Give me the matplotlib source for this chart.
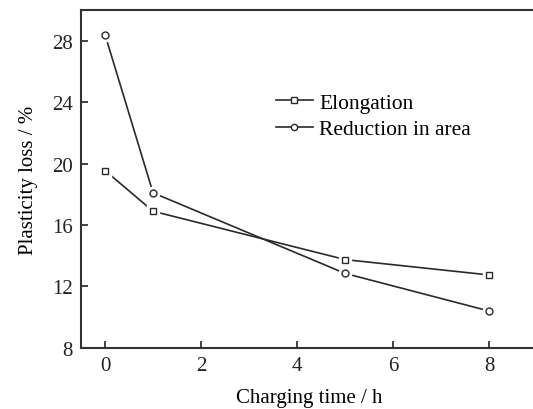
import matplotlib.pyplot as plt
from matplotlib.lines import Line2D

plt.rcParams['font.family'] = ['Liberation Serif', 'DejaVu Serif']

# data
time_h = [0, 1, 5, 8]
elongation = [19.55, 16.9, 13.75, 12.75]
reduction = [28.4, 18.1, 12.85, 10.4]

fig = plt.figure(figsize=(5.33, 4.10), dpi=100)
ax = fig.add_axes([0.152, 0.149, 0.856, 0.824])

line_col = '#2a2a2a'

# lines first, then white halo markers for the small gap, then real markers
ax.plot(time_h, elongation, color=line_col, lw=1.2, zorder=2)
ax.plot(time_h, reduction, color=line_col, lw=1.2, zorder=2)
ax.plot(time_h, elongation, ls='none', marker='s', ms=8, mfc='white', mec='white', zorder=3)
ax.plot(time_h, reduction, ls='none', marker='o', ms=9, mfc='white', mec='white', zorder=3)
ax.plot(time_h, elongation, ls='none', marker='s', ms=4.5,
        mfc='white', mec=line_col, mew=1.0, zorder=4)
ax.plot(time_h, reduction, ls='none', marker='o', ms=5,
        mfc='white', mec=line_col, mew=1.0, zorder=4)

leg_h = [Line2D([], [], color=line_col, lw=1.2, marker='s', ms=4, mfc='white', mec=line_col),
         Line2D([], [], color=line_col, lw=1.2, marker='o', ms=4.5, mfc='white', mec=line_col)]
ax.legend(leg_h, ['Elongation', 'Reduction in area'], frameon=False, fontsize=15.5,
          handlelength=1.7, handletextpad=0.3, labelspacing=0.28,
          loc='upper left', bbox_to_anchor=(0.385, 0.812))

ax.set_xlim(-0.5, 9)
ax.set_ylim(8, 30)
ax.set_xticks([0, 2, 4, 6, 8])
ax.set_yticks([8, 12, 16, 20, 24, 28])
ax.tick_params(direction='in', length=5, width=1.2, labelsize=15, colors='#222222', pad=6)
for s in ax.spines.values():
    s.set_linewidth(1.5)
    s.set_color('#333333')

ax.set_xlabel('Charging time / h', fontsize=15, labelpad=9)
ax.set_ylabel('Plasticity loss / %', fontsize=15, labelpad=10)

fig.savefig('out.png', dpi=100)
